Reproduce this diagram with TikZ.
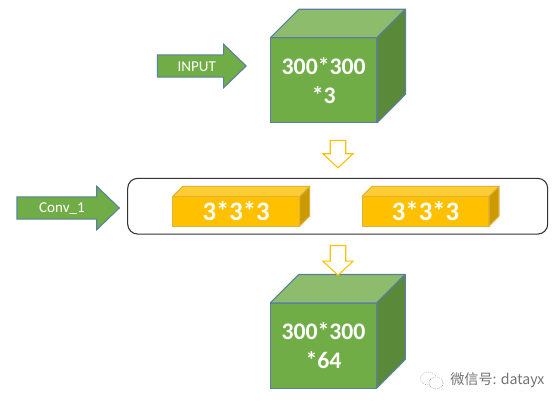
\documentclass[tikz,border=0pt]{standalone}
\usepackage{fontspec}
\setmainfont{Carlito}
\newfontfamily\cjk{Noto Sans CJK SC}
\usepackage{xcolor}
\usetikzlibrary{shapes.arrows}
\definecolor{cubefront}{HTML}{70AD47}
\definecolor{cubetop}{HTML}{8DBD6C}
\definecolor{cubeside}{HTML}{5A8A39}
\definecolor{cubeline}{HTML}{5B7F9F}
\definecolor{kerfront}{HTML}{FFC000}
\definecolor{kertop}{HTML}{FFCD33}
\definecolor{kerside}{HTML}{CC9A00}
\definecolor{kerline}{HTML}{E0B23C}
\begin{document}
\begin{tikzpicture}[
    x=0.75pt, y=-0.75pt,
    cube/.style={rectangle, draw=cubeline, fill=cubefront, line width=0.8pt, minimum width=79.9pt, minimum height=63.8pt, outer sep=0pt, inner sep=0pt, align=center, text=white, text depth=0pt, font=\fontsize{17.8}{21.75}\selectfont\bfseries},
    cubetopface/.style={draw=cubeline, fill=cubetop, line width=0.8pt, line join=round},
    cubesideface/.style={draw=cubeline, fill=cubeside, line width=0.8pt, line join=round},
    kernel/.style={rectangle, draw=kerline, fill=kerfront, line width=0.8pt, minimum width=95.2pt, minimum height=22.3pt, outer sep=0pt, inner sep=0pt, text=white, font=\fontsize{20}{24}\selectfont\bfseries},
    kertopface/.style={draw=kerline, fill=kertop, line width=0.8pt, line join=round},
    kersideface/.style={draw=kerline, fill=kerside, line width=0.8pt, line join=round},
    inarrow/.style={single arrow, draw=cubeline, fill=cubefront, line width=0.8pt, anchor=tail, minimum width=31.7pt, single arrow head extend=8pt, single arrow tip angle=88, inner xsep=0pt, inner ysep=7.9pt, outer sep=0pt},
    downarrow/.style={single arrow, draw=kerfront, fill=white, line width=0.8pt, anchor=tail, shape border rotate=270, minimum width=21.75pt, single arrow head extend=5.5pt, single arrow tip angle=94, inner xsep=5.4pt, inner ysep=0pt, outer sep=0pt},
    arrowtext/.style={text=white, inner sep=0pt, font=\fontsize{11.3}{13}\selectfont}
]
\useasboundingbox (0,0) rectangle (560,406);

% Input block
\node[inarrow, minimum height=66.5pt] (input) at (157.5,66) {};
\node[arrowtext] (inputtext) at (196.7,66.7) {INPUT};
\node[cube] (cube1) at (323.7,80.3) {300*300\\*3};
\draw[cubetopface] (cube1.north west) -- ++(28.5,-28.5) -- ++(106.5,0) -- (cube1.north east) -- cycle;
\draw[cubesideface] (cube1.north east) -- ++(28.5,-28.5) -- ++(0,85) -- (cube1.south east) -- cycle;

\node[downarrow, minimum height=20.5pt] (down1) at (338,140.5) {};

% Conv layer
\node[rectangle, draw=black!80, fill=white, line width=0.8pt, rounded corners=7.5pt, minimum width=315pt, minimum height=41.8pt, inner sep=0pt] (layer) at (337.7,206.2) {};
\node[inarrow, minimum height=76.7pt] (conv) at (17,208) {};
\node[arrowtext] (convtext) at (62,208.7) {Conv\_1};

\node[kernel] (ker1) at (236.2,211.2) {3*3*3};
\draw[kertopface] (ker1.north west) -- ++(10,-10) -- ++(127,0) -- (ker1.north east) -- cycle;
\draw[kersideface] (ker1.north east) -- ++(10,-10) -- ++(0,29.7) -- (ker1.south east) -- cycle;

\node[kernel] (ker2) at (425.5,211.2) {3*3*3};
\draw[kertopface] (ker2.north west) -- ++(10,-10) -- ++(127,0) -- (ker2.north east) -- cycle;
\draw[kersideface] (ker2.north east) -- ++(10,-10) -- ++(0,29.7) -- (ker2.south east) -- cycle;

% Output block
\node[cube] (cube2) at (323.5,345.5) {300*300\\*64};
\draw[cubetopface] (cube2.north west) -- ++(28.5,-28.5) -- ++(106.5,0) -- (cube2.north east) -- cycle;
\draw[cubesideface] (cube2.north east) -- ++(28.5,-28.5) -- ++(0,85) -- (cube2.south east) -- cycle;

\node[downarrow, minimum height=22.3pt] (down2) at (338,245.5) {};

% Watermark
\draw[black!35, line width=0.5pt, densely dotted] (428.5,378.5) ellipse (8 and 6.5);
\draw[black!45, line width=0.5pt, densely dotted, fill=white] (436,383) ellipse (7 and 6);
\node[text=black!55, inner sep=0pt, anchor=west, font=\cjk\fontsize{10.6}{12}\selectfont] (mark) at (450,380.5) {微信号: datayx};
\end{tikzpicture}
\end{document}
